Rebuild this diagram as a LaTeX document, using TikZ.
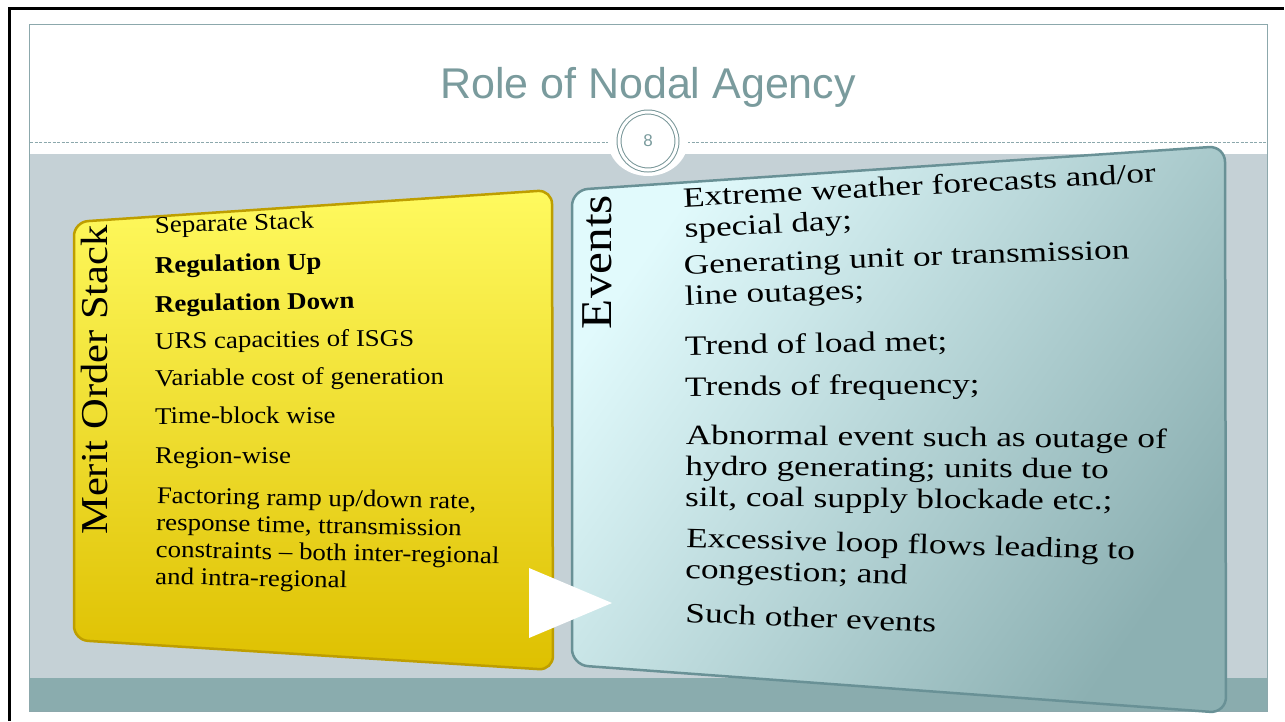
\documentclass[tikz,border=0pt]{standalone}
\usepackage{fontspec}
\setmainfont{Liberation Serif}[FakeStretch=1.12]
\newfontfamily\eventfont{Liberation Serif}[FakeStretch=1.26]
\newfontfamily\titlefont{Liberation Sans}
\definecolor{slidegray}{RGB}{197,209,214}
\definecolor{slideteal}{RGB}{138,172,174}
\definecolor{frameline}{RGB}{140,168,172}
\definecolor{ringline}{RGB}{120,150,152}
\definecolor{titleteal}{RGB}{122,155,157}
\definecolor{stackyellow}{RGB}{255,250,95}
\definecolor{stackgold}{RGB}{222,192,0}
\definecolor{stackrim}{RGB}{190,158,0}
\definecolor{eventlight}{RGB}{225,250,252}
\definecolor{eventmid}{RGB}{178,210,212}
\definecolor{eventteal}{RGB}{140,176,178}
\definecolor{eventrim}{RGB}{105,145,150}
\tikzset{
  stackitem/.style={anchor=base west, inner sep=0pt, align=left, font=\fontsize{24}{27}\selectfont},
  eventitem/.style={anchor=base west, inner sep=0pt, align=left, font=\eventfont\fontsize{28}{31}\selectfont},
  sidelabel/.style={rotate=90, inner sep=0pt},
}

\begin{document}
\begin{tikzpicture}[x=1pt, y=-1pt]
  \useasboundingbox (0,0) rectangle (1285,721);
  \fill [white] (0,0) rectangle (1285,721);

  % slide background
  \fill [slidegray] (30,154) rectangle (1267,678);
  \fill [slideteal] (30,678) rectangle (1267,711);
  \draw [frameline] (29.5,24.5) rectangle (1267.5,711);
  \draw [line width=3pt] (9.5,721) -- (9.5,8.5) -- (1284,8.5);
  \draw [frameline, dash pattern=on 3pt off 1.5pt] (30,142) -- (1267,142);

  % title and page number
  \node [font=\titlefont\fontsize{43}{43}\selectfont, text=titleteal, anchor=base] (title) at (648,98) {Role of Nodal Agency};
  \fill [white] (648,141) ellipse [x radius=40, y radius=35];
  \node [circle, draw=ringline, line width=1pt, double=white, double distance=3pt, minimum size=58, inner sep=0pt,
         font=\titlefont\fontsize{17}{17}\selectfont, text=titleteal] (pagenum) at (648,141) {8};

  % merit order box
  \shadedraw [top color=stackyellow, bottom color=stackgold, draw=stackrim, line width=2.5pt, rounded corners=14pt]
    (74,222) -- (552,190) -- (553,670) -- (74,640) -- cycle;

  % events box
  \shadedraw [top color=eventlight, middle color=eventmid, bottom color=eventteal, shading angle=55,
              draw=eventrim, line width=2.5pt, rounded corners=16pt]
    (572,190) -- (1225,146) -- (1226,713) -- (572,665) -- cycle;

  % chevron between the boxes
  \fill [white] (529,568) -- (612,603) -- (529,638) -- cycle;

  % labels
  \node [sidelabel, font=\fontsize{38}{38}\selectfont] (stacklabel) at (95,380) {Merit Order Stack};
  \node [sidelabel, font=\fontsize{44}{44}\selectfont] (eventlabel) at (597,262) {Events};

  % items, placed at the baseline of their last line
  \foreach \y/\a/\t [count=\i] in {233/1.6/Separate Stack, 273/1.3/\textbf{Regulation Up}, 312/1.0/\textbf{Regulation Down},
      349/0.7/URS capacities of ISGS, 386/0.4/Variable cost of generation, 424/0.05/Time-block wise, 463/-0.3/Region-wise,
      584/-1.1/{Factoring ramp up/down rate,\\response time, ttransmission\\constraints -- both inter-regional\\and intra-regional}}
    \node [stackitem, rotate=\a] (stack\i) at (155,\y) {\t};

  \foreach \y/\a/\t [count=\i] in {238/3.0/{Extreme weather forecasts and/or\\special day;},
      305/2.0/{Generating unit or transmission\\line outages;}, 355/1.0/Trend of load met;,
      396/0.5/Trends of frequency;, 506/-0.5/{Abnormal event such as outage of\\hydro generating; units due to\\silt, coal supply blockade etc.;},
      578/-1.6/{Excessive loop flows leading to\\congestion; and}, 622/-2.4/Such other events}
    \node [eventitem, rotate=\a] (event\i) at (685,\y) {\t};
\end{tikzpicture}
\end{document}
